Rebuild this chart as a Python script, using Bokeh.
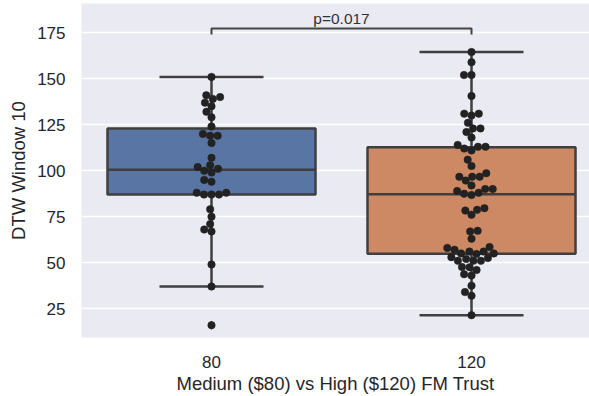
import numpy as np
from bokeh.plotting import figure
from bokeh.models import Range1d, FixedTicker
from bokeh.core.properties import value
from bokeh.embed import file_html
from bokeh.resources import INLINE

# ---------------- data ----------------
categories = ["80", "120"]
x_title = "Medium ($80) vs High ($120) FM Trust"
y_title = "DTW Window 10"
p_label = "p=0.017"

trust_80 = [151, 141, 140, 139, 137, 135, 132, 129, 124, 120, 119, 119, 115,
            107, 103, 102, 101, 100, 99, 95, 94, 88, 88, 87, 87, 87,
            79, 75, 71, 68, 67, 49, 37, 16]
trust_120 = [164.5, 159, 152, 152, 140.6, 131, 131, 130, 126, 123, 123, 121, 118,
             114, 113, 113, 112, 111, 106, 102.5, 98.6, 96.7, 96.7, 96.7, 94.6, 92,
             90, 90, 89, 88, 87.5, 86.8, 79.6, 78.7, 78.3, 76, 67.3, 67, 63,
             58.5, 58, 57, 56, 56, 55, 55, 54.7, 53, 52.5, 52, 51, 51, 51,
             47.6, 47.5, 46, 43.7, 43, 37.5, 34, 32, 21.4]
y_ticks = [25, 50, 75, 100, 125, 150, 175]

groups = [trust_80, trust_120]

# ---------------- styles ----------------
BG = "#EAEAF2"
BOX_COLORS = ["#5975a4", "#cc8963"]
LINE = "#3f3f3f"
DOT = "#222222"
TXT = "#262626"
FONT = "Liberation Sans"

X0, X1 = -0.5, 1.4538
Y0, Y1 = 9.3, 190.9
FRAME_W, FRAME_H = 508, 335
px_x = FRAME_W / (X1 - X0)
px_y = FRAME_H / (Y1 - Y0)

p = figure(width=589, height=396, output_backend="svg", toolbar_location=None,
           x_range=Range1d(X0, X1), y_range=Range1d(Y0, Y1),
           min_border_left=81, min_border_right=0, min_border_top=3,
           min_border_bottom=58)
p.background_fill_color = BG
p.border_fill_color = "white"
p.outline_line_color = None
p.xgrid.grid_line_color = None
p.ygrid.grid_line_color = "white"
p.ygrid.grid_line_width = 1.3

for ax in (p.xaxis, p.yaxis):
    ax.axis_line_color = None
    ax.major_tick_line_color = None
    ax.minor_tick_line_color = None
    ax.major_label_text_font = FONT
    ax.major_label_text_font_size = "17px"
    ax.major_label_text_color = TXT
    ax.axis_label_text_font = FONT
    ax.axis_label_text_font_size = "18.5px"
    ax.axis_label_text_font_style = "normal"
    ax.axis_label_text_color = TXT

p.xaxis.ticker = FixedTicker(ticks=list(range(len(categories))))
p.xaxis.major_label_overrides = {i: c for i, c in enumerate(categories)}
p.xaxis.axis_label = x_title
p.xaxis.major_label_standoff = 12
p.xaxis.axis_label_standoff = 2
p.yaxis.ticker = FixedTicker(ticks=y_ticks)
p.yaxis.axis_label = y_title
p.yaxis.major_label_standoff = 10
p.yaxis.axis_label_standoff = 5


def swarm(vals, d):
    order = np.argsort(vals)
    placed = []
    offs = np.zeros(len(vals))
    for idx in order:
        y = vals[idx] * px_y
        neigh = [(x0, y0) for (x0, y0) in placed if abs(y0 - y) < d]
        cands = [0.0]
        for x0, y0 in neigh:
            dx = np.sqrt(max(d * d - (y - y0) ** 2, 0.0))
            cands += [x0 - dx, x0 + dx]
        cands.sort(key=lambda c: (abs(c), c))
        for c in cands:
            if all((c - x0) ** 2 + (y - y0) ** 2 >= d * d - 1e-6 for x0, y0 in neigh):
                break
        placed.append((c, y))
        offs[idx] = c / px_x
    return offs


for i, vals in enumerate(groups):
    arr = np.array(vals, dtype=float)
    q1, med, q3 = np.percentile(arr, [25, 50, 75])
    iqr = q3 - q1
    lo = arr[arr >= q1 - 1.5 * iqr].min()
    hi = arr[arr <= q3 + 1.5 * iqr].max()
    fl = arr[(arr < lo) | (arr > hi)]
    # whiskers
    p.segment(x0=[i, i], y0=[q3, q1], x1=[i, i], y1=[hi, lo], line_color=LINE, line_width=2.5)
    p.segment(x0=[i - 0.2, i - 0.2], y0=[hi, lo], x1=[i + 0.2, i + 0.2], y1=[hi, lo],
              line_color=LINE, line_width=2.5)
    # box
    p.quad(left=[i - 0.4], right=[i + 0.4], bottom=[q1], top=[q3],
           fill_color=BOX_COLORS[i], line_color=LINE, line_width=2.5)
    p.segment(x0=[i - 0.4], y0=[med], x1=[i + 0.4], y1=[med], line_color=LINE, line_width=2.5)
    if len(fl):
        p.scatter(x=[i] * len(fl), y=list(fl), marker="diamond", size=8,
                  fill_color=LINE, line_color=LINE)
    # swarm
    offs = swarm(arr, 7.5)
    p.scatter(x=list(i + offs), y=list(arr), size=7.5, fill_color=DOT, line_color=DOT,
              line_width=0.5)

# significance bracket
BR_TOP, BR_BOT = 177.3, 174.0
p.line(x=[0, 0, 1, 1], y=[BR_BOT, BR_TOP, BR_TOP, BR_BOT], line_color="#444444", line_width=2)
p.text(x=[0.5], y=[BR_TOP + 0.6], text=[p_label], text_align="center", text_baseline="bottom",
       text_font=value(FONT), text_font_size="15.5px", text_color="#333333")

open("out.html", "w").write(file_html(p, INLINE))
